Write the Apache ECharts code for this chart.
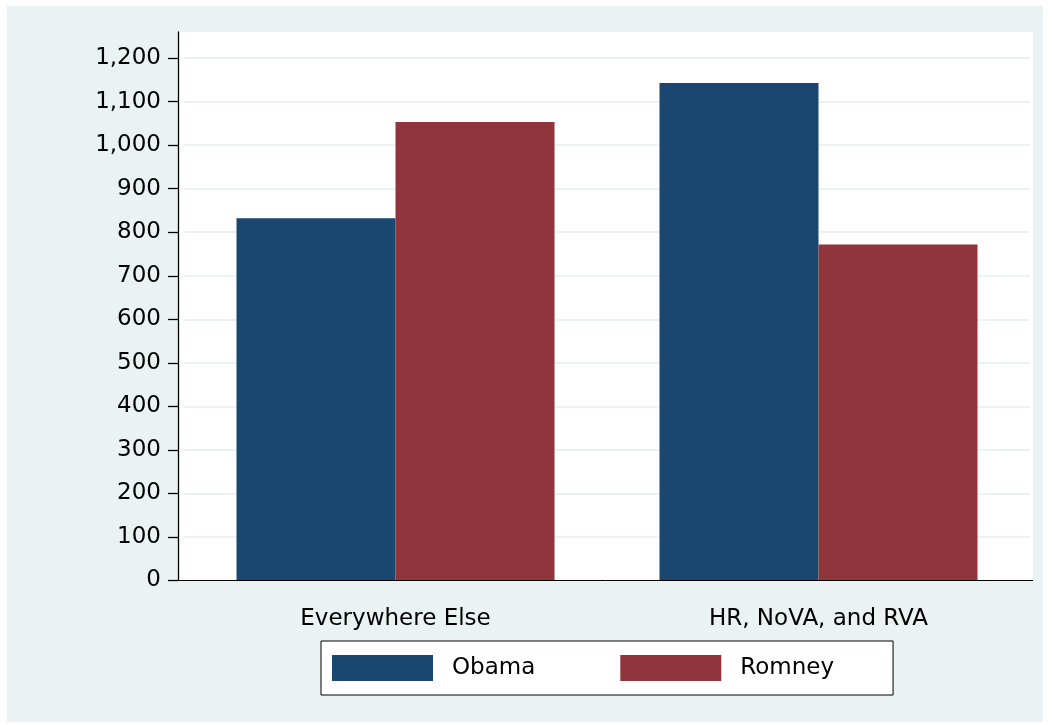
<!DOCTYPE html>
<html>
<head>
<meta charset="utf-8">
<script src="https://cdn.jsdelivr.net/npm/echarts@6/dist/echarts.min.js"></script>
<style>
html,body{margin:0;padding:0;background:#fff;}
#chart{width:1052px;height:725px;}
</style>
</head>
<body>
<div id="chart"></div>
<script>
const categories = ['Everywhere Else', 'HR, NoVA, and RVA'];
const obama = [832, 1143];
const romney = [1053, 772];
const yTicks = [0, 100, 200, 300, 400, 500, 600, 700, 800, 900, 1000, 1100, 1200];

const FONT = '"DejaVu Sans", sans-serif';
const FS = 23;
const chart = echarts.init(document.getElementById('chart'));
chart.setOption({
  backgroundColor: '#ffffff',
  animation: false,
  graphic: [
    { type: 'rect', z: -10, silent: true,
      shape: { x: 7, y: 6, width: 1036, height: 716 },
      style: { fill: '#EAF2F3' } },
    { type: 'rect', z: -9, silent: true,
      shape: { x: 178, y: 32, width: 855, height: 549 },
      style: { fill: '#ffffff' } },
    { type: 'line', z: 5, silent: true,
      shape: { x1: 178, y1: 580.5, x2: 1033, y2: 580.5 },
      style: { stroke: '#000', lineWidth: 1 } }
  ],
  grid: {
    left: 184, right: 22, top: 32, bottom: 144.5,
    show: false
  },
  legend: {
    left: 321, top: 641,
    orient: 'horizontal',
    icon: 'rect',
    itemWidth: 101, itemHeight: 26,
    itemGap: 85,
    padding: [14, 59, 14, 11],
    borderColor: '#000', borderWidth: 1,
    backgroundColor: '#fff',
    textStyle: { fontFamily: FONT, fontSize: FS, color: '#000', padding: [0, 0, 0, 14] },
    data: ['Obama', 'Romney']
  },
  xAxis: {
    type: 'category',
    data: categories,
    axisLine: { show: false },
    axisTick: { show: false },
    axisLabel: { fontFamily: FONT, fontSize: FS, color: '#000', margin: 27 },
    splitLine: { show: false }
  },
  yAxis: {
    type: 'value',
    min: 0, max: 1260, interval: 100,
    offset: 6,
    axisLine: { show: true, lineStyle: { color: '#000', width: 1.3 } },
    axisTick: { show: true, length: 10, customValues: yTicks, lineStyle: { color: '#000', width: 1.3 } },
    axisLabel: {
      fontFamily: FONT, fontSize: FS, color: '#000', margin: 17,
      customValues: yTicks,
      formatter: v => v.toLocaleString('en-US')
    },
    splitLine: { show: true, lineStyle: { color: '#EAF2F3', width: 2 } }
  },
  series: [
    { name: 'Obama', type: 'bar', data: obama, barWidth: 159, barGap: '0%',
      itemStyle: { color: '#1A476F' } },
    { name: 'Romney', type: 'bar', data: romney, barWidth: 159, barGap: '0%',
      itemStyle: { color: '#90353B' } }
  ]
});
</script>
</body>
</html>
